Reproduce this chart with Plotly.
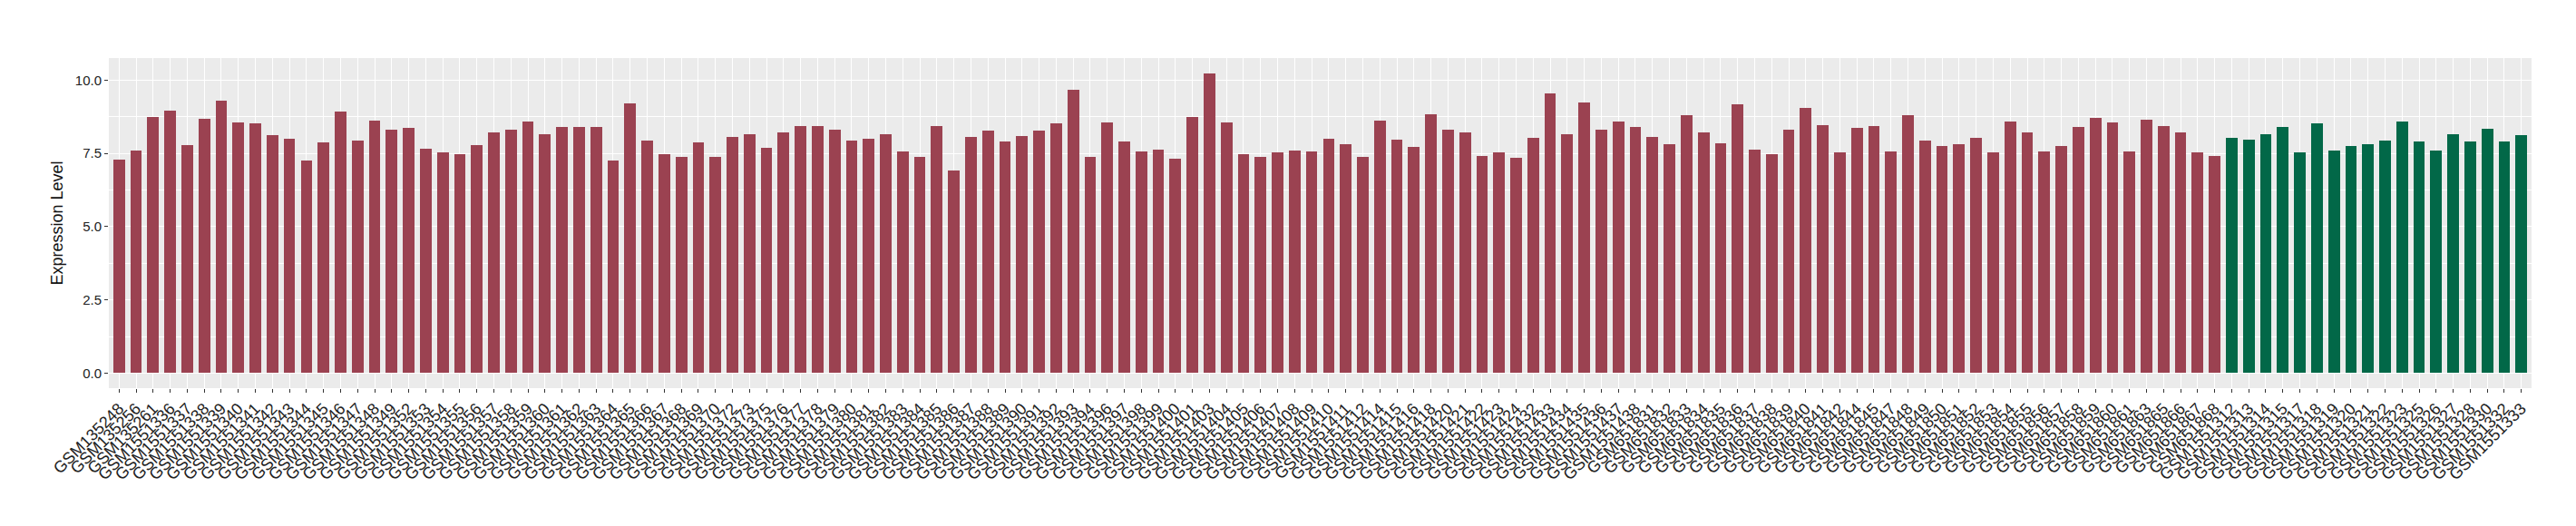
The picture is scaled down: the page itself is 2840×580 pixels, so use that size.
import plotly.graph_objects as go

samples_a = [
    "GSM135248", "GSM135256", "GSM135261", "GSM1551336", "GSM1551337", "GSM1551338",
    "GSM1551339", "GSM1551340", "GSM1551341", "GSM1551342", "GSM1551343", "GSM1551344",
    "GSM1551345", "GSM1551346", "GSM1551347", "GSM1551348", "GSM1551349", "GSM1551352",
    "GSM1551353", "GSM1551354", "GSM1551355", "GSM1551356", "GSM1551357", "GSM1551358",
    "GSM1551359", "GSM1551360", "GSM1551361", "GSM1551362", "GSM1551363", "GSM1551364",
    "GSM1551365", "GSM1551366", "GSM1551367", "GSM1551368", "GSM1551369", "GSM1551370",
    "GSM1551372", "GSM1551373", "GSM1551375", "GSM1551376", "GSM1551377", "GSM1551378",
    "GSM1551379", "GSM1551380", "GSM1551381", "GSM1551382", "GSM1551383", "GSM1551384",
    "GSM1551385", "GSM1551386", "GSM1551387", "GSM1551388", "GSM1551389", "GSM1551390",
    "GSM1551391", "GSM1551392", "GSM1551393", "GSM1551394", "GSM1551396", "GSM1551397",
    "GSM1551398", "GSM1551399", "GSM1551400", "GSM1551401", "GSM1551403", "GSM1551404",
    "GSM1551405", "GSM1551406", "GSM1551407", "GSM1551408", "GSM1551409", "GSM1551410",
    "GSM1551411", "GSM1551412", "GSM1551414", "GSM1551415", "GSM1551416", "GSM1551418",
    "GSM1551420", "GSM1551421", "GSM1551422", "GSM1551423", "GSM1551424", "GSM1551432",
    "GSM1551433", "GSM1551434", "GSM1551435", "GSM1551436", "GSM1551437", "GSM1551438",
    "GSM651831", "GSM651832", "GSM651833", "GSM651834", "GSM651835", "GSM651836",
    "GSM651837", "GSM651838", "GSM651839", "GSM651840", "GSM651841", "GSM651842",
    "GSM651844", "GSM651845", "GSM651847", "GSM651848", "GSM651849", "GSM651850",
    "GSM651851", "GSM651852", "GSM651853", "GSM651854", "GSM651855", "GSM651856",
    "GSM651857", "GSM651858", "GSM651859", "GSM651860", "GSM651861", "GSM651863",
    "GSM651865", "GSM651866", "GSM651867", "GSM651868",
]
values_a = [
    7.28, 7.61, 8.74, 8.95, 7.78, 8.68,
    9.31, 8.54, 8.51, 8.11, 7.99, 7.25,
    7.88, 8.93, 7.94, 8.62, 8.30, 8.38,
    7.67, 7.52, 7.48, 7.78, 8.21, 8.32,
    8.60, 8.14, 8.41, 8.41, 8.41, 7.25,
    9.20, 7.94, 7.48, 7.39, 7.88, 7.37,
    8.05, 8.14, 7.69, 8.21, 8.44, 8.44,
    8.30, 7.94, 7.99, 8.14, 7.55, 7.39,
    8.44, 6.92, 8.05, 8.27, 7.91, 8.08,
    8.27, 8.51, 9.67, 7.37, 8.57, 7.91,
    7.55, 7.64, 7.31, 8.74, 10.24, 8.57,
    7.48, 7.37, 7.52, 7.61, 7.58, 7.99,
    7.81, 7.39, 8.62, 7.97, 7.72, 8.84,
    8.32, 8.21, 7.42, 7.52, 7.34, 8.02,
    9.55, 8.14, 9.25, 8.30, 8.60, 8.41,
    8.05, 7.81, 8.80, 8.21, 7.85, 9.16,
    7.64, 7.48, 8.30, 9.04, 8.47, 7.52,
    8.38, 8.44, 7.58, 8.80, 7.94, 7.75,
    7.81, 8.02, 7.52, 8.60, 8.21, 7.58,
    7.75, 8.41, 8.71, 8.54, 7.55, 8.65,
    8.44, 8.21, 7.52, 7.42,
]

samples_b = [
    "GSM1551312", "GSM1551313", "GSM1551314", "GSM1551315", "GSM1551317", "GSM1551318",
    "GSM1551319", "GSM1551320", "GSM1551321", "GSM1551322", "GSM1551323", "GSM1551325",
    "GSM1551326", "GSM1551327", "GSM1551328", "GSM1551330", "GSM1551332", "GSM1551333",
]
values_b = [
    8.02, 7.97, 8.14, 8.41, 7.52, 8.51,
    7.61, 7.75, 7.81, 7.94, 8.60, 7.91,
    7.61, 8.14, 7.91, 8.35, 7.91, 8.11,
]

all_samples = samples_a + samples_b

fig = go.Figure()
fig.add_trace(go.Bar(x=samples_a, y=values_a, width=0.68,
                     marker=dict(color="#9B4251", line=dict(width=0)), showlegend=False))
fig.add_trace(go.Bar(x=samples_b, y=values_b, width=0.68,
                     marker=dict(color="#026848", line=dict(width=0)), showlegend=False))

n = len(all_samples)
fig.update_layout(
    width=2840, height=580,
    margin=dict(l=112, r=57, t=56, b=160, autoexpand=False),
    paper_bgcolor="white", plot_bgcolor="#EBEBEB",
    barmode="overlay", bargap=0,
    font=dict(family="Liberation Sans, Arial, sans-serif", color="#222222"),
)
fig.update_xaxes(
    type="category", categoryorder="array", categoryarray=all_samples,
    tickmode="array", tickvals=all_samples, ticktext=all_samples,
    range=[-0.6, n - 1 + 0.6], automargin=False,
    tickangle=-45, tickfont=dict(size=18, color="#222222"),
    showgrid=True, gridcolor="white", gridwidth=1.1,
    ticks="outside", ticklen=4, tickcolor="#333333", tickwidth=1,
    showline=False, zeroline=False,
)
fig.update_yaxes(
    range=[-0.512, 10.752], automargin=False,
    tickmode="array", tickvals=[0, 2.5, 5, 7.5, 10],
    ticktext=["0.0", "2.5", "5.0", "7.5", "10.0"],
    tickfont=dict(size=15, color="#222222"),
    showgrid=True, gridcolor="white", gridwidth=1.1,
    minor=dict(tickvals=[1.25, 3.75, 6.25, 8.75], showgrid=True, gridcolor="white", gridwidth=0.5, ticks=""),
    ticks="outside", ticklen=4, tickcolor="#333333", tickwidth=1,
    zeroline=False, showline=False,
    title=dict(text="Expression Level", font=dict(size=18, color="#111111"), standoff=8),
)

fig.write_html("out.html")
